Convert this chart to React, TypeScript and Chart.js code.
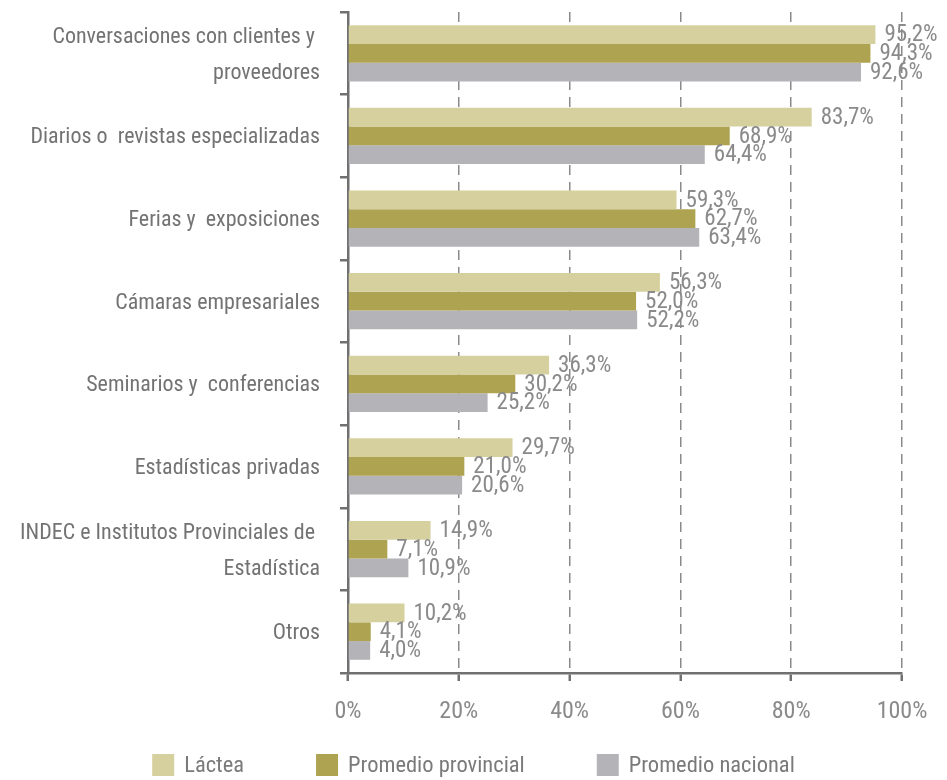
import React, { useEffect, useRef } from "react";
import { Chart, registerables } from "chart.js";

Chart.register(...registerables);

const categories: (string | string[])[] = [
  ["Conversaciones con clientes y ", "proveedores"],
  "Diarios o  revistas especializadas",
  "Ferias y  exposiciones",
  "Cámaras empresariales",
  "Seminarios y  conferencias",
  "Estadísticas privadas",
  ["INDEC e Institutos Provinciales de ", "Estadística"],
  "Otros",
];
const seriesNames = ["Láctea", "Promedio provincial", "Promedio nacional"];
const lactea = [95.2, 83.7, 59.3, 56.3, 36.3, 29.7, 14.9, 10.2];
const provincial = [94.3, 68.9, 62.7, 52.0, 30.2, 21.0, 7.1, 4.1];
const nacional = [92.6, 64.4, 63.4, 52.2, 25.2, 20.6, 10.9, 4.0];
const xTicks = [0, 20, 40, 60, 80, 100];

const colors = ["#d6d09f", "#ada350", "#b4b3b8"];
const FONT = '"Roboto Condensed", Roboto, sans-serif';
const AXIS = "#707070";

const valueLabels = {
  id: "valueLabels",
  afterDatasetsDraw(chart: any) {
    const ctx = chart.ctx;
    ctx.save();
    ctx.font = `23px ${FONT}`;
    ctx.fillStyle = "#8a8a8a";
    ctx.textAlign = "left";
    ctx.textBaseline = "middle";
    chart.data.datasets.forEach((ds: any, i: number) => {
      const meta = chart.getDatasetMeta(i);
      meta.data.forEach((bar: any, j: number) => {
        const v = ds.data[j] as number;
        ctx.fillText(v.toFixed(1).replace(".", ",") + "%", bar.x + 9, bar.y + 1);
      });
    });
    ctx.restore();
  },
};

const customLegend = {
  id: "customLegend",
  afterDraw(chart: any) {
    const ctx = chart.ctx;
    ctx.save();
    ctx.font = `22.5px ${FONT}`;
    const box = 22;
    const gapText = 10;
    const gapItem = 72;
    const widths = chart.data.datasets.map(
      (ds: any) => box + gapText + ctx.measureText(ds.label).width
    );
    const total = widths.reduce((a: number, b: number) => a + b, 0) + gapItem * (widths.length - 1);
    let x = (chart.width - total) / 2;
    const cy = 765;
    chart.data.datasets.forEach((ds: any, i: number) => {
      ctx.fillStyle = ds.backgroundColor;
      ctx.fillRect(x, cy - box / 2, box, box);
      ctx.fillStyle = "#7a7a7a";
      ctx.textAlign = "left";
      ctx.textBaseline = "middle";
      ctx.fillText(ds.label, x + box + gapText, cy + 1);
      x += widths[i] + gapItem;
    });
    ctx.restore();
  },
};

export default function App() {
  const ref = useRef<HTMLCanvasElement>(null);
  useEffect(() => {
    document.body.style.margin = "0";
    const chart = new Chart(ref.current!, {
      type: "bar",
      data: {
        labels: categories,
        datasets: [lactea, provincial, nacional].map((d, i) => ({
          label: seriesNames[i],
          data: d,
          backgroundColor: colors[i],
          borderWidth: 0,
          barPercentage: 1,
          categoryPercentage: 0.68,
        })),
      },
      options: {
        indexAxis: "y",
        animation: false,
        responsive: false,
        maintainAspectRatio: false,
        layout: { padding: { top: 12, right: 45, bottom: 47, left: 0 } },
        plugins: {
          legend: { display: false },
          tooltip: { enabled: false },
        },
        scales: {
          x: {
            min: 0,
            max: 100,
            afterBuildTicks: (s: any) => {
              s.ticks = xTicks.map((v) => ({ value: v }));
            },
            afterFit: (s: any) => {
              s.height = 60;
              s.paddingLeft = 0;
              s.paddingRight = 0;
            },
            grid: {
              color: "#8a8a8a",
              lineWidth: 1.5,
              tickLength: 8,
              tickColor: AXIS,
              tickWidth: 2.5,
              tickBorderDash: [],
            } as any,
            border: { color: AXIS, width: 2.5, dash: [10, 7] } as any,
            ticks: {
              color: "#8a8a8a",
              font: { family: FONT, size: 24 },
              padding: 17,
              maxRotation: 0,
              callback: (v: any) => v + "%",
            },
          },
          y: {
            offset: true,
            afterFit: (s: any) => {
              s.width = 348;
              s.paddingTop = 0;
              s.paddingBottom = 0;
            },
            grid: {
              offset: true,
              drawOnChartArea: false,
              tickLength: 8,
              color: AXIS,
              lineWidth: 2.5,
            },
            border: { color: AXIS, width: 2.5 },
            ticks: {
              autoSkip: false,
              color: "#737373",
              padding: 20,
              labelOffset: 2,
              font: { family: FONT, size: 22, lineHeight: 1.64 },
            },
          },
        },
      },
      plugins: [valueLabels, customLegend],
    } as any);
    return () => chart.destroy();
  }, []);
  return (
    <div style={{ width: 947, height: 780 }}>
      <canvas ref={ref} width={947} height={780} style={{ width: 947, height: 780 }} />
    </div>
  );
}
